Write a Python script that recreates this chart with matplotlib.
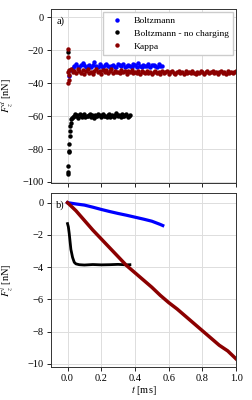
import numpy as np
import matplotlib
matplotlib.use("Agg")
import matplotlib.pyplot as plt

plt.rcParams['font.family'] = ['Liberation Serif', 'DejaVu Serif']
plt.rcParams['mathtext.fontset'] = 'stix'
plt.rcParams['font.size'] = 7.5

# ---- panel a) dust force ----
blue_top = [-35.5, -32.0, -30.8, -29.6, -28.4, -29.9, -30.3, -28.9, -27.5, -29.2,
            -30.1, -29.4, -28.7, -30.0, -29.1, -26.8, -29.8, -30.2, -28.6, -29.3,
            -30.4, -29.0, -28.2, -29.7, -30.1, -29.5, -28.8, -29.9, -30.3, -28.5,
            -29.2, -29.8, -28.1, -30.0, -29.4, -28.9, -29.6, -30.2, -28.4, -29.1,
            -29.9, -27.9, -29.5, -30.1, -28.7, -29.3, -29.8, -28.3, -30.0, -29.2,
            -28.9, -29.6, -30.2, -28.6, -29.4, -29.7]
blue_top_t = np.linspace(0.01, 0.56, len(blue_top))

black_top_early_t = [0.0, 0.0, 0.002, 0.004, 0.006, 0.008, 0.01, 0.012, 0.014, 0.016, 0.018, 0.02, 0.025]
black_top_early = [-21, -95, -94, -90.5, -82, -81, -77, -72, -69, -66, -64, -62, -61]
black_top = [-60.5, -59.8, -58.9, -60.2, -59.4, -61.0, -58.7, -59.9, -60.3, -59.1,
             -58.5, -60.6, -59.7, -60.1, -59.2, -58.8, -60.4, -59.6, -61.2, -59.0,
             -59.9, -60.2, -58.6, -59.5, -60.7, -59.3, -58.9, -60.0, -59.7, -60.5,
             -59.1, -58.4, -60.3, -59.8, -59.4, -60.8, -59.0, -58.2, -59.6, -60.1,
             -59.3, -60.4, -58.9, -59.7, -60.2, -59.5, -58.7, -60.6, -59.9, -59.2]
black_top_t = np.linspace(0.03, 0.37, len(black_top))

red_top_early_t = [0.0, 0.0, 0.002, 0.004, 0.006, 0.008]
red_top_early = [-19, -24, -33, -40, -38, -35]
red_top = [-32.1, -31.2, -33.4, -32.4, -34.0, -31.6, -32.8, -33.6, -31.9, -34.2,
           -32.6, -31.5, -33.5, -32.9, -34.1, -32.3, -31.4, -33.3, -32.7, -34.3,
           -32.2, -33.0, -31.8, -33.9, -32.8, -31.6, -33.7, -32.5, -33.1, -32.9,
           -34.0, -32.1, -33.2, -32.6, -34.3, -32.8, -33.0, -32.2, -33.8, -32.9,
           -33.5, -32.4, -34.4, -32.8, -33.2, -33.9, -32.5, -33.6, -32.9, -34.2,
           -33.1, -32.3, -33.8, -33.0, -34.5, -32.7, -33.6, -33.2, -32.5, -34.1,
           -33.3, -32.6, -33.7, -34.3, -33.1, -32.4, -33.9, -33.2, -34.2, -32.7,
           -33.6, -33.0, -34.0, -32.5, -33.5, -34.6, -33.1, -33.8, -32.6, -33.3,
           -34.2, -33.2, -32.7, -33.9, -33.4, -32.4, -34.0, -33.1, -34.3, -33.3,
           -32.6, -33.8, -33.2, -34.2, -32.5, -33.5, -33.1, -34.0, -33.4, -32.8]
red_top_t = np.linspace(0.01, 1.0, len(red_top))

# ---- panel b) ion force ----
blue_bot_t = [0.0, 0.05, 0.1, 0.15, 0.2, 0.25, 0.3, 0.35, 0.4, 0.45, 0.5, 0.55, 0.565]
blue_bot = [0.0, -0.08, -0.15, -0.28, -0.42, -0.55, -0.67, -0.78, -0.9, -1.02, -1.15, -1.35, -1.42]

black_bot_t = [0.0, 0.005, 0.01, 0.015, 0.02, 0.03, 0.04, 0.05, 0.07, 0.1, 0.15, 0.2, 0.25, 0.3, 0.35, 0.37]
black_bot = [-1.3, -1.5, -1.9, -2.4, -2.9, -3.4, -3.7, -3.8, -3.85, -3.87, -3.84, -3.86, -3.85, -3.83, -3.86, -3.85]

red_bot_t = [0.0, 0.05, 0.1, 0.15, 0.2, 0.25, 0.3, 0.35, 0.4, 0.45, 0.5,
             0.55, 0.6, 0.65, 0.7, 0.75, 0.8, 0.85, 0.9, 0.95, 1.0]
red_bot = [0.0, -0.5, -1.1, -1.7, -2.25, -2.8, -3.35, -3.9, -4.35, -4.8, -5.25,
           -5.75, -6.2, -6.6, -7.05, -7.5, -7.95, -8.4, -8.85, -9.2, -9.7]

c_blue = '#0000ff'
c_black = '#000000'
c_red = '#8b0000'

fig = plt.figure(figsize=(2.52, 4.0), dpi=100)
ax1 = fig.add_axes([0.201, 0.543, 0.736, 0.434])
ax2 = fig.add_axes([0.201, 0.0825, 0.736, 0.435], sharex=ax1)

ms = 3.2
ax1.plot(blue_top_t, blue_top, 'o', color=c_blue, ms=ms, mew=0, label='Boltzmann')
ax1.plot(np.concatenate([black_top_early_t, black_top_t]), black_top_early + black_top,
         'o', color=c_black, ms=ms, mew=0, label='Boltzmann - no charging')
ax1.plot(np.concatenate([red_top_early_t, red_top_t]), red_top_early + red_top,
         'o', color=c_red, ms=ms, mew=0, label='Kappa')

ax2.plot(blue_bot_t, blue_bot, '-', color=c_blue, lw=2.3)
ax2.plot(black_bot_t, black_bot, '-', color=c_black, lw=2.0)
ax2.plot(red_bot_t, red_bot, '-', color=c_red, lw=2.5)

ax1.set_ylim(-100.5, 5)
ax1.set_yticks([0, -20, -40, -60, -80, -100])
ax2.set_ylim(-10.2, 0.6)
ax2.set_yticks([0, -2, -4, -6, -8, -10])
ax1.set_xlim(-0.1, 1.0)
ax2.set_xticks([0.0, 0.2, 0.4, 0.6, 0.8, 1.0])
plt.setp(ax1.get_xticklabels(), visible=False)

for ax in (ax1, ax2):
    ax.grid(True, color='#dddddd', lw=0.7)
    ax.set_axisbelow(True)
    ax.tick_params(length=3, width=0.6, labelsize=7.5, pad=2)
    for s in ax.spines.values():
        s.set_linewidth(0.7)
        s.set_color('#333333')

ax1.set_ylabel(r'$F_z^d$ [nN]')
ax2.set_ylabel(r'$F_z^i$ [nN]')
ax1.yaxis.set_label_coords(-0.185, 0.5)
ax2.yaxis.set_label_coords(-0.185, 0.5)
ax2.set_xlabel(r'$t$ [ms]', labelpad=1)

ax1.text(0.03, 0.93, 'a)', transform=ax1.transAxes, fontsize=7.5, va='center')
ax2.text(0.03, 0.93, 'b)', transform=ax2.transAxes, fontsize=7.5, va='center')

ax1.legend(loc='upper right', fontsize=6.8, markerscale=1.0, handletextpad=0.8,
           borderpad=0.45, labelspacing=0.45, framealpha=1.0, edgecolor='#cccccc',
           fancybox=False, borderaxespad=0.3)

fig.savefig('out.png', dpi=100)
